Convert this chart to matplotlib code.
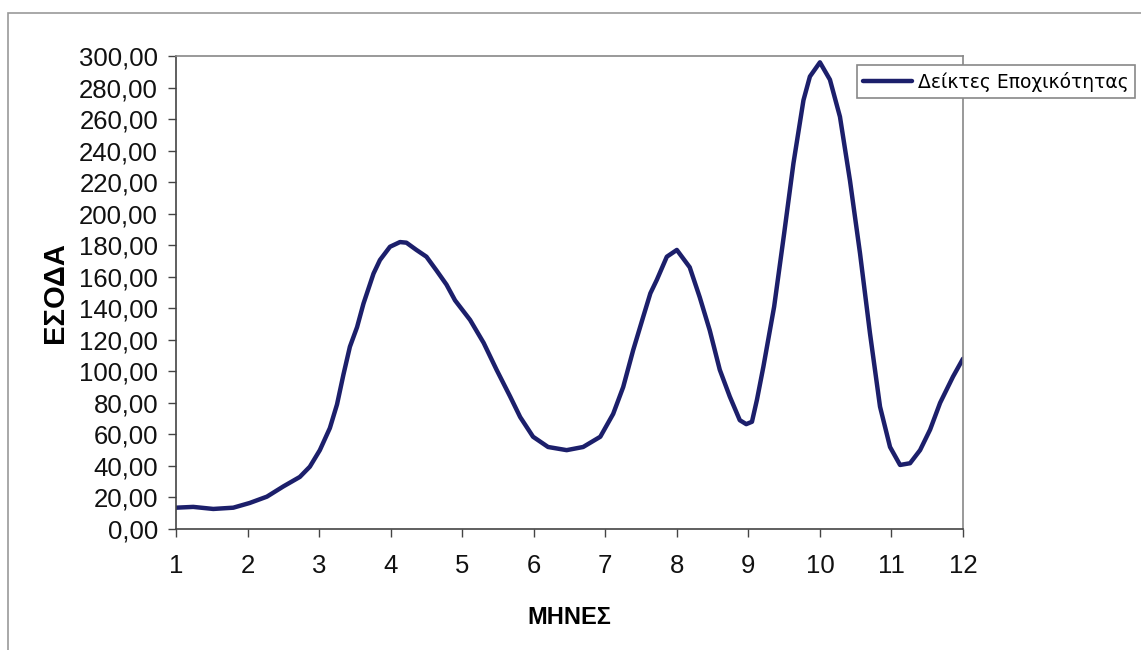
import matplotlib
matplotlib.use("Agg")
import matplotlib.pyplot as plt
from matplotlib.ticker import FuncFormatter, MultipleLocator
from matplotlib.patches import Rectangle

# values (month position, seasonal index)
months = [1.0, 1.24, 1.52, 1.8, 2.03, 2.27, 2.5, 2.73, 2.87, 3.01, 3.15,
          3.25, 3.34, 3.43, 3.53, 3.62, 3.76, 3.85, 3.99, 4.13, 4.22, 4.36,
          4.5, 4.64, 4.78, 4.9, 5.11, 5.3, 5.48, 5.67, 5.81, 5.99, 6.2,
          6.46, 6.69, 6.93, 7.11, 7.25, 7.39, 7.53, 7.63, 7.72, 7.86, 8.0,
          8.18, 8.32, 8.46, 8.6, 8.74, 8.88, 8.97, 9.05, 9.12, 9.21, 9.36,
          9.5, 9.63, 9.77, 9.86, 10.0, 10.14, 10.28, 10.42, 10.56, 10.7,
          10.84, 10.98, 11.12, 11.26, 11.4, 11.54, 11.68, 11.86, 12.0]
index = [13.5, 14, 12.7, 13.5, 16.5, 20.5, 27, 33, 39.5, 50, 64,
         79, 98, 115.6, 128, 143, 162, 170.6, 179, 182, 181.6, 177,
         172.7, 164, 155, 145, 132.6, 118, 101, 84, 71, 58.5, 52,
         50, 52, 58.5, 73, 90, 113.5, 134.6, 149.5, 158, 172.7, 177,
         166, 147, 126, 101, 84, 69, 66.5, 68, 82, 103, 141,
         187.5, 232, 272, 287, 296, 285, 261.5, 221, 175, 124,
         77.6, 52, 40.6, 41.7, 50, 63, 80, 96.6, 108]

xticks = list(range(1, 13))
line_color = "#1c1f6b"

plt.rcParams['font.family'] = ['Liberation Sans', 'DejaVu Sans']

fig = plt.figure(figsize=(11.41, 6.5), dpi=100)
ax = fig.add_axes([0.1543, 0.1862, 0.6897, 0.7276])

ax.plot(months, index, color=line_color, lw=3.2, label="Δείκτες Εποχικότητας",
        solid_capstyle="round", solid_joinstyle="round")

ax.set_xlim(1, 12)
ax.set_ylim(0, 300)
ax.set_xticks(xticks)
ax.yaxis.set_major_locator(MultipleLocator(20))
ax.yaxis.set_major_formatter(FuncFormatter(lambda v, p: f"{v:.2f}".replace(".", ",")))

ax.tick_params(axis="both", direction="out", length=6, width=1, colors="#444444",
               labelsize=18.5, labelcolor="#111111")
ax.tick_params(axis="y", pad=7)
ax.tick_params(axis="x", pad=12)

for side in ["left", "bottom"]:
    ax.spines[side].set_color("#444444")
    ax.spines[side].set_linewidth(1.2)
for side in ["top", "right"]:
    ax.spines[side].set_color("#888888")
    ax.spines[side].set_linewidth(1.2)

ax.set_xlabel("ΜΗΝΕΣ", fontsize=17, fontweight="bold", labelpad=20)
ax.set_ylabel("ΕΣΟΔΑ", fontsize=21, fontweight="bold", labelpad=7)

leg = ax.legend(loc="upper left", bbox_to_anchor=(0.751, 0.9), bbox_transform=fig.transFigure,
                borderaxespad=0, fancybox=False, edgecolor="#888888", framealpha=1,
                handlelength=2.6, handletextpad=0.3, borderpad=0.35,
                prop={"family": "DejaVu Sans", "size": 13.5})
leg.get_frame().set_linewidth(1.2)

# grey border of the chart area
fig.patches.append(Rectangle((0.007, -0.05), 1.05, 1.03, transform=fig.transFigure,
                             fill=False, edgecolor="#999999", lw=1.2))

fig.savefig("out.png", dpi=100)
